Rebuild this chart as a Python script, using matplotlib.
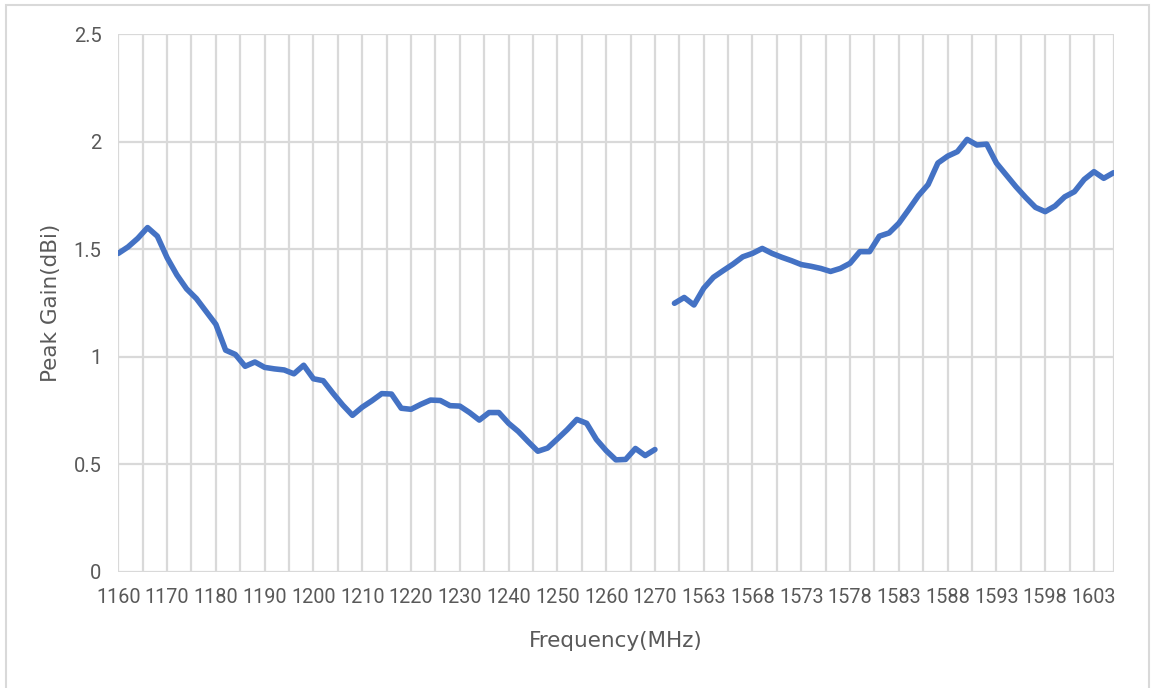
import numpy as np
import matplotlib
matplotlib.use("Agg")
import matplotlib.pyplot as plt
from matplotlib.patches import Rectangle
from matplotlib.ticker import MultipleLocator, FixedLocator

# ---- data ----
left_freq = [1160, 1162, 1164, 1166, 1168, 1170, 1172, 1174, 1176, 1178,
             1180, 1182, 1184, 1186, 1188, 1190, 1192, 1194, 1196, 1198,
             1200, 1202, 1204, 1206, 1208, 1210, 1212, 1214, 1216, 1218,
             1220, 1222, 1224, 1226, 1228, 1230, 1232, 1234, 1236, 1238,
             1240, 1242, 1244, 1246, 1248, 1250, 1252, 1254, 1256, 1258,
             1260, 1262, 1264, 1266, 1268, 1270]
left_gain = [1.48, 1.51, 1.55, 1.60, 1.56, 1.46, 1.38, 1.315, 1.27, 1.21,
             1.15, 1.03, 1.01, 0.955, 0.975, 0.95, 0.943, 0.938, 0.92, 0.96,
             0.897, 0.888, 0.83, 0.775, 0.727, 0.765, 0.795, 0.828, 0.826, 0.76,
             0.755, 0.778, 0.798, 0.796, 0.772, 0.77, 0.74, 0.705, 0.74, 0.74,
             0.69, 0.652, 0.605, 0.56, 0.575, 0.617, 0.66, 0.708, 0.69, 0.615,
             0.563, 0.52, 0.522, 0.573, 0.54, 0.568]

right_freq = [1560, 1561, 1562, 1563, 1564, 1565, 1566, 1567, 1568, 1569,
              1570, 1571, 1572, 1573, 1574, 1575, 1576, 1577, 1578, 1579,
              1580, 1581, 1582, 1583, 1584, 1585, 1586, 1587, 1588, 1589,
              1590, 1591, 1592, 1593, 1594, 1595, 1596, 1597, 1598, 1599,
              1600, 1601, 1602, 1603, 1604, 1605]
right_gain = [1.248, 1.275, 1.24, 1.318, 1.369, 1.40, 1.43, 1.464, 1.48, 1.503,
              1.48, 1.462, 1.446, 1.428, 1.42, 1.41, 1.396, 1.41, 1.434, 1.488,
              1.488, 1.56, 1.575, 1.62, 1.683, 1.748, 1.80, 1.90, 1.932, 1.953,
              2.01, 1.984, 1.988, 1.90, 1.845, 1.79, 1.74, 1.694, 1.674, 1.70,
              1.743, 1.767, 1.824, 1.86, 1.829, 1.855]

tick_freqs = [1160, 1170, 1180, 1190, 1200, 1210, 1220, 1230, 1240, 1250,
              1260, 1270, 1563, 1568, 1573, 1578, 1583, 1588, 1593, 1598, 1603]
y_ticks = [0, 0.5, 1, 1.5, 2, 2.5]
y_tick_labels = ["0", "0.5", "1", "1.5", "2", "2.5"]


# category axis (Excel-like): 1 MHz per category below 1271, 0.5 MHz above,
# with three empty categories between the two bands
def cat_pos(f):
    f = np.asarray(f, dtype=float)
    return np.where(f <= 1270, f - 1160, 114 + 2 * (f - 1560))


LINE = "#4472C4"
GRID = "#D9D9D9"
TXT = "#595959"

fig = plt.figure(figsize=(11.56, 6.88), dpi=100)
ax = fig.add_axes([118.3 / 1156, (688 - 571.7) / 688, 995.2 / 1156, 537.7 / 688])

ax.plot(cat_pos(left_freq), left_gain, color=LINE, lw=4.0,
        solid_capstyle="round", solid_joinstyle="round", zorder=3)
ax.plot(cat_pos(right_freq), right_gain, color=LINE, lw=4.0,
        solid_capstyle="round", solid_joinstyle="round", zorder=3)

ax.set_xlim(0, 204)
ax.set_ylim(0, 2.5)

ax.xaxis.set_major_locator(FixedLocator(cat_pos(tick_freqs)))
ax.set_xticklabels([str(f) for f in tick_freqs])
ax.xaxis.set_minor_locator(MultipleLocator(5))
ax.set_yticks(y_ticks)
ax.set_yticklabels(y_tick_labels)

ax.grid(True, which="both", axis="x", color=GRID, lw=1.6, zorder=0)
ax.grid(True, which="major", axis="y", color=GRID, lw=1.6, zorder=0)
ax.axvline(204, color=GRID, lw=1.6, zorder=0)
for s in ax.spines.values():
    s.set_visible(False)
ax.tick_params(which="both", length=0)
ax.tick_params(axis="x", pad=12, labelsize=14.3, labelcolor=TXT)
ax.tick_params(axis="y", pad=12, labelsize=14.5, labelcolor=TXT)
for lab in ax.get_xticklabels() + ax.get_yticklabels():
    lab.set_family("Roboto")

ax.set_xlabel("Frequency(MHz)", fontsize=15.5, color=TXT, labelpad=17,
              family="DejaVu Sans")
ax.set_ylabel("Peak Gain(dBi)", fontsize=15.5, color=TXT, labelpad=9,
              family="DejaVu Sans")

# chart-area border
fig.patches.append(Rectangle((6 / 1156, -0.01), 1143 / 1156, (688 - 5) / 688 + 0.01,
                             transform=fig.transFigure, fill=False,
                             edgecolor=GRID, lw=1.5))

fig.savefig("out.png", dpi=100)
